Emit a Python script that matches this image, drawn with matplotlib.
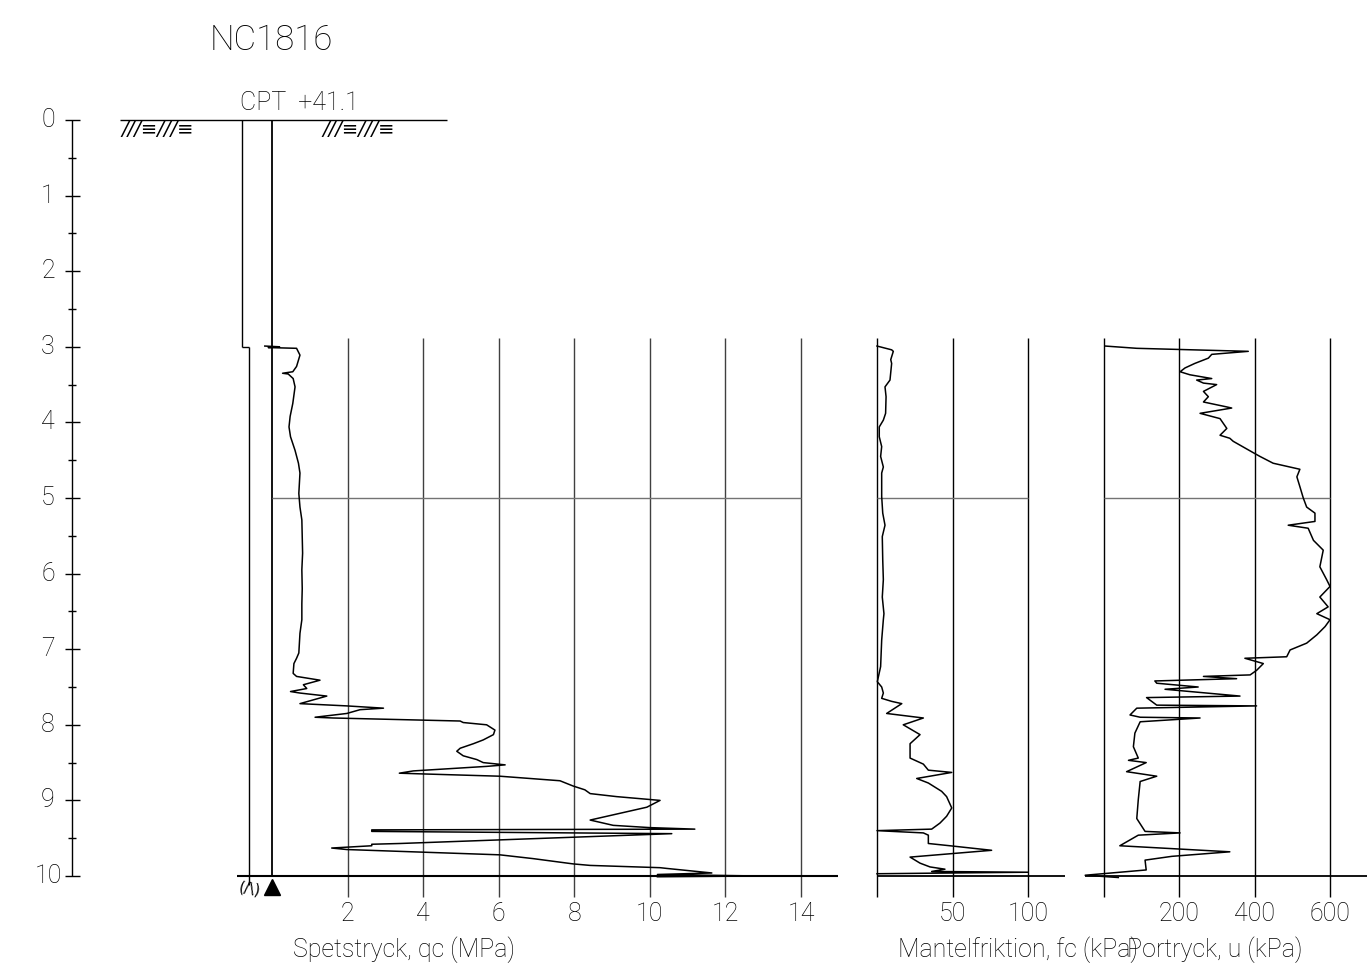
import matplotlib
matplotlib.use("Agg")
import matplotlib.pyplot as plt

plt.rcParams['font.family'] = ['Roboto', 'DejaVu Sans']
plt.rcParams['font.weight'] = 'light'

# sounding NC1816, CPT from ground level +41.1
title = "NC1816"
level_text = "CPT  +41.1"
predrill_depth = 3.0
end_depth = 10.0

# tip resistance qc (MPa)
qc_depth = [2.99, 3.00, 3.01, 3.02, 3.11, 3.26, 3.33, 3.35, 3.36, 3.42, 3.53, 3.75, 3.92,
            4.06, 4.19, 4.37, 4.54, 4.67, 4.94, 5.12, 5.29, 5.73, 5.95, 6.20, 6.40, 6.61,
            6.79, 7.05, 7.12, 7.19, 7.32, 7.36, 7.41, 7.47, 7.52, 7.56, 7.58, 7.62, 7.72,
            7.75, 7.78, 7.80, 7.85, 7.90, 7.91, 7.95, 7.97, 8.00, 8.07, 8.13, 8.20, 8.25,
            8.31, 8.35, 8.41, 8.46, 8.50, 8.53, 8.55, 8.61, 8.64, 8.65, 8.68, 8.74, 8.81,
            8.86, 8.91, 8.95, 9.00, 9.09, 9.26, 9.33, 9.36, 9.38, 9.39, 9.41, 9.44, 9.57,
            9.58, 9.60, 9.63, 9.65, 9.72, 9.77, 9.84, 9.86, 9.89, 9.90, 9.96, 9.98, 10.00,
            10.01]
qc = [-0.19, 0.20, -0.10, 0.65, 0.74, 0.65, 0.55, 0.28, 0.43, 0.56, 0.61, 0.55, 0.48,
      0.45, 0.49, 0.61, 0.70, 0.74, 0.71, 0.74, 0.79, 0.81, 0.79, 0.80, 0.79, 0.79,
      0.74, 0.71, 0.65, 0.58, 0.56, 0.65, 1.27, 0.83, 0.92, 0.49, 0.74, 1.45, 0.74,
      1.98, 2.95, 2.33, 1.98, 1.14, 1.62, 4.98, 5.06, 5.68, 5.90, 5.86, 5.59, 5.33,
      4.98, 4.89, 5.06, 5.42, 5.59, 6.17, 5.68, 3.74, 3.37, 4.00, 6.03, 7.62, 7.97,
      8.28, 8.42, 9.12, 10.27, 9.92, 8.42, 9.03, 10.00, 11.19, 2.64, 2.64, 10.58, 3.39,
      2.64, 2.64, 1.58, 1.98, 6.03, 6.91, 7.97, 8.42, 10.27, 10.45, 11.64, 10.20, 12.87,
      10.20]

# sleeve friction fc (kPa)
fc_depth = [2.99, 3.04, 3.06, 3.17, 3.22, 3.44, 3.53, 3.66, 3.88, 3.97, 4.06, 4.19, 4.32,
            4.45, 4.59, 4.67, 4.98, 5.20, 5.36, 5.51, 5.82, 6.08, 6.31, 6.53, 6.61, 6.88,
            7.23, 7.43, 7.50, 7.58, 7.65, 7.69, 7.72, 7.85, 7.91, 8.00, 8.13, 8.25, 8.44,
            8.52, 8.60, 8.63, 8.71, 8.77, 8.88, 8.95, 9.10, 9.21, 9.30, 9.38, 9.40, 9.43,
            9.46, 9.57, 9.60, 9.66, 9.75, 9.83, 9.88, 9.91, 9.94, 9.95, 9.97]
fc = [0.0, 9.7, 10.8, 9.1, 9.7, 8.6, 5.3, 6.0, 5.7, 4.2, 1.5, 1.5, 3.1,
      2.4, 4.2, 3.1, 3.1, 3.8, 5.3, 3.5, 3.8, 4.2, 3.5, 4.6, 4.2, 3.1,
      2.4, 0.2, 3.1, 4.2, 3.1, 9.7, 16.4, 6.4, 30.7, 17.4, 28.5, 21.9, 21.9,
      30.7, 34.0, 49.5, 26.3, 34.0, 42.8, 46.1, 49.5, 46.1, 41.7, 36.2, 0.0, 30.7,
      34.0, 34.0, 48.3, 75.9, 21.9, 28.5, 35.1, 45.0, 36.2, 100.2, 0.0]

# pore pressure u (kPa)
u_depth = [2.99, 3.02, 3.06, 3.10, 3.15, 3.22, 3.28, 3.33, 3.37, 3.42, 3.44, 3.48, 3.50,
           3.59, 3.66, 3.73, 3.79, 3.81, 3.88, 3.95, 4.08, 4.17, 4.21, 4.25, 4.40, 4.45,
           4.54, 4.62, 4.72, 4.85, 5.00, 5.12, 5.20, 5.31, 5.36, 5.40, 5.56, 5.69, 5.91,
           6.08, 6.17, 6.31, 6.44, 6.53, 6.61, 6.70, 6.81, 6.92, 7.01, 7.10, 7.12, 7.19,
           7.28, 7.34, 7.36, 7.39, 7.42, 7.45, 7.50, 7.53, 7.62, 7.64, 7.74, 7.75, 7.78,
           7.87, 7.90, 7.91, 7.96, 8.11, 8.29, 8.44, 8.47, 8.50, 8.62, 8.68, 8.75, 8.99,
           9.24, 9.41, 9.43, 9.46, 9.60, 9.68, 9.74, 9.79, 9.92, 9.99, 10.02]
u = [3, 87, 383, 286, 277, 241, 215, 202, 228, 286, 246, 264, 299,
     264, 277, 264, 321, 339, 255, 308, 326, 308, 334, 343, 396, 414,
     449, 520, 512, 520, 529, 538, 560, 560, 489, 542, 556, 582, 573,
     591, 600, 573, 595, 565, 600, 587, 565, 538, 494, 485, 374, 423,
     405, 388, 264, 352, 135, 140, 250, 162, 361, 113, 140, 405, 87,
     69, 96, 255, 96, 82, 78, 91, 65, 112, 60, 140, 96, 91,
     87, 109, 202, 91, 42, 334, 180, 109, 112, -50, 38]

depth_ticks = list(range(0, 11))
qc_ticks = [2, 4, 6, 8, 10, 12, 14]
fc_ticks = [50, 100]
u_ticks = [200, 400, 600]

W, H = 1367, 976
Z0, PXM = 120, 75.6          # pixel row of depth 0 and pixels per metre
d_top, d_bot = -Z0 / PXM, (H - Z0) / PXM

fig = plt.figure(figsize=(W / 100, H / 100), dpi=100)


def panel(x0, x1, v0, scale):
    """Full-height axes from pixel column x0 to x1, value v0 at x0."""
    ax = fig.add_axes([x0 / W, 0, (x1 - x0) / W, 1])
    ax.set_xlim(v0, v0 + (x1 - x0) / scale)
    ax.set_ylim(d_bot, d_top)
    ax.axis('off')
    return ax


base = panel(0, W, 0, 1.0)
ax_qc = panel(230, 845, (230 - 272) / 37.786, 37.786)
ax_fc = panel(855, 1072, (855 - 877) / 1.51, 1.51)
ax_u = panel(1074, W, (1074 - 1104) / 0.3767, 0.3767)

lw = 1.0
fs = 18

# depth scale
base.vlines(72, 0, 10, color='k', lw=lw)
base.hlines(depth_ticks, 65, 80, color='k', lw=lw)
base.hlines([t + 0.5 for t in depth_ticks[:-1]], 68, 76, color='k', lw=lw)
for t in depth_ticks:
    base.text(48, t, str(t), ha='center', va='center', fontsize=fs)

base.text(210, -1.05, title, ha='left', va='center', fontsize=25)
base.text(240, -0.23, level_text, ha='left', va='center', fontsize=18)

# ground surface with hatching
base.hlines(0, 120, 447, color='k', lw=lw)
for x in (121, 322):
    base.text(x, 0.13, "///≡///≡", ha='left', va='center', fontsize=14,
              family='DejaVu Sans', weight='ultralight', style='italic')

# rods, predrilled to 3 m
base.vlines(242, 0, predrill_depth, color='k', lw=lw)
base.hlines(predrill_depth, 242, 249, color='k', lw=lw)
base.vlines(249, predrill_depth, end_depth + 0.12, color='k', lw=lw)
base.vlines(272, 0, end_depth, color='k', lw=1.3)
base.plot([272], [end_depth + 0.14], marker='^', color='k', ms=11, clip_on=False)
base.text(250, end_depth + 0.17, "(/\\)", ha='center', va='center', fontsize=11,
          family='DejaVu Sans', weight='normal', rotation=-10)

grid_top, tick_bot = 2.89, 10.28

# qc panel
ax_qc.vlines(qc_ticks, grid_top, tick_bot, color='0.25', lw=lw)
ax_qc.hlines(5, 0, 14, color='0.45', lw=lw)
ax_qc.hlines(end_depth, (237 - 272) / 37.786, (838 - 272) / 37.786, color='k', lw=1.5)
ax_qc.plot(qc, qc_depth, color='k', lw=1.1, clip_on=False)
for t in qc_ticks:
    ax_qc.text(t, 10.5, str(t), ha='center', va='center', fontsize=fs)
ax_qc.text(0.55, 10.98, "Spetstryck, qc (MPa)", ha='left', va='center', fontsize=fs)

# fc panel
ax_fc.vlines([0] + fc_ticks, grid_top, tick_bot, color='k', lw=lw)
ax_fc.hlines(5, 0, 100, color='0.45', lw=lw)
ax_fc.hlines(end_depth, 0, (1065 - 877) / 1.51, color='k', lw=1.3)
ax_fc.plot(fc, fc_depth, color='k', lw=1.1, clip_on=False)
for t in fc_ticks:
    ax_fc.text(t, 10.5, str(t), ha='center', va='center', fontsize=fs)
ax_fc.text(14, 10.98, "Mantelfriktion, fc (kPa)", ha='left', va='center', fontsize=fs)

# u panel
ax_u.vlines([0] + u_ticks, grid_top, tick_bot, color='k', lw=lw)
ax_u.hlines(5, 0, 600, color='0.45', lw=lw)
ax_u.hlines(end_depth, -50, 700, color='k', lw=1.3)
ax_u.plot(u, u_depth, color='k', lw=1.1, clip_on=False)
for t in u_ticks:
    ax_u.text(t, 10.5, str(t), ha='center', va='center', fontsize=fs)
ax_u.text(62, 10.98, "Portryck, u (kPa)", ha='left', va='center', fontsize=fs)

fig.savefig("out.png", dpi=100)
